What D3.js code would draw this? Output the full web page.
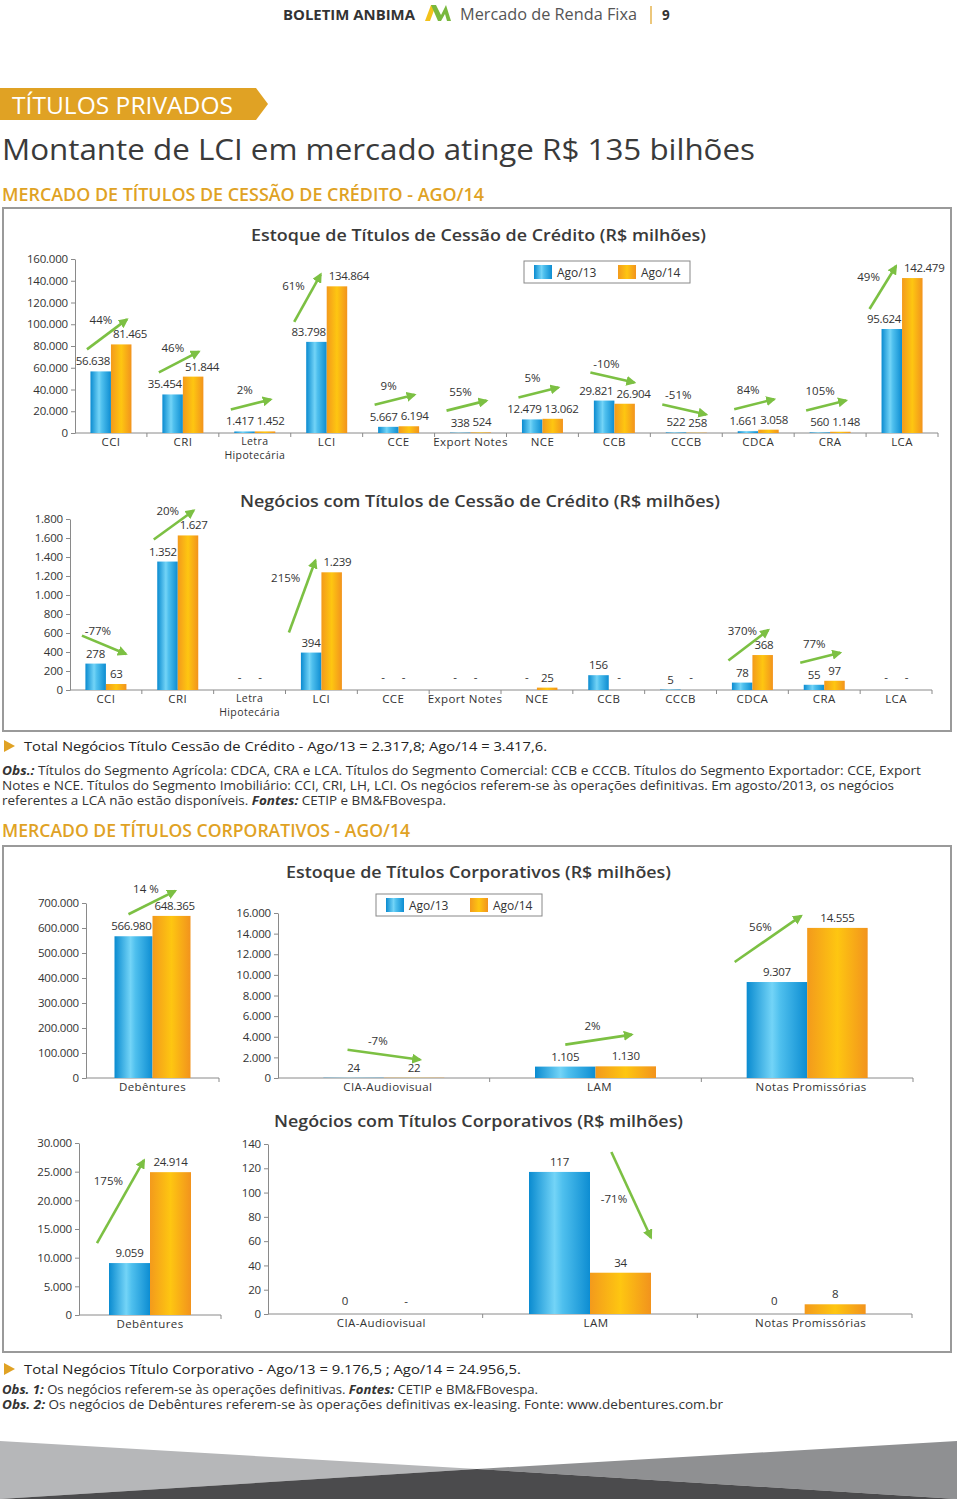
<!DOCTYPE html>
<html>
<head>
<meta charset="utf-8">
<script src="https://cdn.jsdelivr.net/npm/d3@7"></script>
<style>
  body { margin: 0; background: #fff; }
  svg { display: block; font-family: "Open Sans", sans-serif; }
</style>
</head>
<body>
<div id="page"></div>
<script>
// ---- data ----
const seriesNames = ["Ago/13", "Ago/14"];

const cessaoCategories = ["CCI", "CRI", "Letra\nHipotecária", "LCI", "CCE", "Export Notes", "NCE", "CCB", "CCCB", "CDCA", "CRA", "LCA"];
const estoqueAgo13 = [56638, 35454, 1417, 83798, 5667, 338, 12479, 29821, 522, 1661, 560, 95624];
const estoqueAgo14 = [81465, 51844, 1452, 134864, 6194, 524, 13062, 26904, 258, 3058, 1148, 142479];
const estoqueVariacao = ["44%", "46%", "2%", "61%", "9%", "55%", "5%", "-10%", "-51%", "84%", "105%", "49%"];
const estoqueTicks = [0, 20000, 40000, 60000, 80000, 100000, 120000, 140000, 160000];

const negociosAgo13 = [278, 1352, null, 394, null, null, null, 156, 5, 78, 55, null];
const negociosAgo14 = [63, 1627, null, 1239, null, null, 25, null, null, 368, 97, null];
const negociosVariacao = ["-77%", "20%", null, "215%", null, null, null, null, null, "370%", "77%", null];
const negociosTicks = [0, 200, 400, 600, 800, 1000, 1200, 1400, 1600, 1800];

const debCategories = ["Debêntures"];
const corpCategories = ["CIA-Audiovisual", "LAM", "Notas Promissórias"];

const debEstoqueAgo13 = [566980];
const debEstoqueAgo14 = [648365];
const debEstoqueVariacao = ["14 %"];
const debEstoqueTicks = [0, 100000, 200000, 300000, 400000, 500000, 600000, 700000];

const corpEstoqueAgo13 = [24, 1105, 9307];
const corpEstoqueAgo14 = [22, 1130, 14555];
const corpEstoqueVariacao = ["-7%", "2%", "56%"];
const corpEstoqueTicks = [0, 2000, 4000, 6000, 8000, 10000, 12000, 14000, 16000];

const debNegociosAgo13 = [9059];
const debNegociosAgo14 = [24914];
const debNegociosVariacao = ["175%"];
const debNegociosTicks = [0, 5000, 10000, 15000, 20000, 25000, 30000];

const corpNegociosAgo13 = [0, 117, 0];
const corpNegociosAgo14 = [null, 34, 8];
const corpNegociosVariacao = [null, "-71%", null];
const corpNegociosTicks = [0, 20, 40, 60, 80, 100, 120, 140];

// ---- page ----
const W = 960, H = 1499;
const ORANGE = "#e0a224";
const GREEN = "#7cc043";
const TEXT = "#3a3a3a";

const ptBR = d3.formatLocale({ decimal: ",", thousands: ".", grouping: [3], currency: ["R$ ", ""] });
const fmt = ptBR.format(",d");

const svg = d3.select("#page").append("svg")
  .attr("width", W)
  .attr("height", H)
  .attr("viewBox", `0 0 ${W} ${H}`);

const defs = svg.append("defs");

function gradient(id, stops) {
  const g = defs.append("linearGradient").attr("id", id)
    .attr("x1", "0").attr("x2", "1").attr("y1", "0").attr("y2", "0");
  stops.forEach(([o, c]) => g.append("stop").attr("offset", o).attr("stop-color", c));
}
gradient("gBlue", [[0, "#0a8bd0"], [0.42, "#73d4f7"], [0.55, "#4fc0ee"], [1, "#0d8dd2"]]);
gradient("gOrange", [[0, "#f39a1c"], [0.5, "#fec611"], [1, "#f2931d"]]);
const fills = ["url(#gBlue)", "url(#gOrange)"];

defs.append("marker")
  .attr("id", "arrowHead")
  .attr("viewBox", "0 0 10 10")
  .attr("refX", 8)
  .attr("refY", 5)
  .attr("markerWidth", 10)
  .attr("markerHeight", 10)
  .attr("markerUnits", "userSpaceOnUse")
  .attr("orient", "auto")
  .append("path")
  .attr("d", "M0,0 L10,5 L0,10 Z")
  .attr("fill", GREEN);

function text(parent, x, y, s, style = {}) {
  const t = parent.append("text").attr("x", x).attr("y", y).text(s);
  Object.entries(style).forEach(([k, v]) => {
    if (k === "anchor") t.attr("text-anchor", v);
    else if (k === "len") t.attr("textLength", v).attr("lengthAdjust", "spacingAndGlyphs");
    else t.style(k, v);
  });
  return t;
}

// header
text(svg, 283, 20, "BOLETIM ANBIMA", { "font-size": "13.5px", "font-weight": 700, fill: "#333", len: 132 });
svg.append("path").attr("d", "M425,21 L431,5 L436,5 L430,21 Z").attr("fill", "#f2c21b");
svg.append("path").attr("d", "M431,5 L436,5 L441,15 L446,5 L451,21 L447,21 L445,14 L441,21 L438,21 Z").attr("fill", "#79b83e");
text(svg, 460, 20, "Mercado de Renda Fixa", { "font-size": "15.5px", fill: "#555", len: 177 });
svg.append("line").attr("x1", 651).attr("x2", 651).attr("y1", 6).attr("y2", 24)
  .attr("stroke", ORANGE).attr("stroke-width", 1.2);
text(svg, 662, 20, "9", { "font-size": "13.5px", "font-weight": 700, fill: "#333" });

// banner
svg.append("path").attr("d", "M0,88 L256,88 L268,104 L256,120 L0,120 Z").attr("fill", ORANGE);
text(svg, 12, 114, "TÍTULOS PRIVADOS", { "font-size": "23px", fill: "#fff", len: 221 });

text(svg, 2, 160, "Montante de LCI em mercado atinge R$ 135 bilhões", { "font-size": "29px", fill: TEXT, len: 753 });
text(svg, 2, 201, "MERCADO DE TÍTULOS DE CESSÃO DE CRÉDITO - AGO/14", { "font-size": "18px", "font-weight": 600, fill: ORANGE, len: 482 });

// boxes
svg.append("rect").attr("x", 3).attr("y", 208).attr("width", 948).attr("height", 523)
  .attr("fill", "none").attr("stroke", "#9a9a9a").attr("stroke-width", 2);
svg.append("rect").attr("x", 3).attr("y", 846).attr("width", 948).attr("height", 506)
  .attr("fill", "none").attr("stroke", "#9a9a9a").attr("stroke-width", 2);

// chart titles
const titleStyle = (len) => ({ "font-size": "17px", "font-weight": 600, fill: TEXT, len });
text(svg, 251, 241, "Estoque de Títulos de Cessão de Crédito (R$ milhões)", titleStyle(455));
text(svg, 240, 507, "Negócios com Títulos de Cessão de Crédito (R$ milhões)", titleStyle(480));
text(svg, 286, 878, "Estoque de Títulos Corporativos (R$ milhões)", titleStyle(385));
text(svg, 274, 1127, "Negócios com Títulos Corporativos (R$ milhões)", titleStyle(409));

function legend(x, y) {
  const g = svg.append("g").attr("transform", `translate(${x},${y})`);
  g.append("rect").attr("width", 166).attr("height", 22)
    .attr("fill", "#fff").attr("stroke", "#888").attr("stroke-width", 1);
  seriesNames.forEach((name, i) => {
    g.append("rect").attr("x", 10 + i * 84).attr("y", 4).attr("width", 18).attr("height", 14)
      .attr("fill", fills[i]);
    text(g, 33 + i * 84, 16, name, { "font-size": "12px", fill: "#333" });
  });
}
legend(524, 261);
legend(376, 894);

// generic grouped bar panel
function panel(cfg) {
  const g = svg.append("g");
  const x = d3.scaleBand().domain(cfg.categories).range(cfg.xRange);
  const y = d3.scaleLinear().domain([0, d3.max(cfg.ticks)]).range(cfg.yRange);
  const y0 = y(0);
  const bw = cfg.barWidth;

  const yAxis = g.append("g")
    .attr("transform", `translate(${cfg.xRange[0]},0)`)
    .call(d3.axisLeft(y).tickValues(cfg.ticks).tickFormat(fmt).tickSize(4).tickSizeOuter(0).tickPadding(3));
  yAxis.select(".domain").attr("stroke", "#8a8a8a");
  yAxis.selectAll(".tick line").attr("stroke", "#8a8a8a");
  yAxis.selectAll(".tick text").style("font-size", "11.5px").style("fill", "#333")
    .style("font-family", "'Open Sans', sans-serif").style("letter-spacing", "-0.2px");

  g.append("line").attr("x1", cfg.xRange[0]).attr("x2", cfg.xRange[1])
    .attr("y1", y0).attr("y2", y0).attr("stroke", "#8a8a8a");
  const bounds = cfg.categories.map((c) => x(c)).concat([cfg.xRange[1]]);
  bounds.slice(1).forEach((b) => {
    g.append("line").attr("x1", b).attr("x2", b).attr("y1", y0).attr("y2", y0 + 4).attr("stroke", "#8a8a8a");
  });

  cfg.categories.forEach((cat, i) => {
    const c = x(cat) + x.bandwidth() / 2;
    const lines = cat.split("\n");
    lines.forEach((ln, k) => {
      const two = lines.length > 1;
      text(g, c + (cfg.labelShift || 0), y0 + (two ? 11.5 + k * 14.5 : 12.5), ln,
        { anchor: "middle", "font-size": two ? "10.5px" : "11.5px", fill: "#333", "letter-spacing": "0.4px" });
    });

    const vals = [cfg.ago13[i], cfg.ago14[i]];
    vals.forEach((v, s) => {
      const bx = s === 0 ? c - bw : c;
      const bc = bx + bw / 2;
      if (v !== null && v > 0) {
        g.append("rect").attr("x", bx).attr("y", y(v)).attr("width", bw)
          .attr("height", Math.max(0, y0 - y(v))).attr("fill", fills[s]);
      }
      const label = v === null ? "-" : fmt(v);
      const ly = (v === null || v === 0) ? y0 - 9 : y(v) - 6;
      const t = text(g, bc, ly, label,
        { anchor: "middle", "font-size": "11.5px", fill: "#333", "letter-spacing": "-0.3px" });
      if (v !== null) {
        const w = t.node().getComputedTextLength();
        const lx = s === 0 ? Math.min(bc, c - 1 - w / 2) : Math.max(bc, c + 2 + w / 2);
        t.attr("x", lx);
      }
    });

    const pct = cfg.variacao[i];
    if (pct && vals[0] !== null && vals[1] !== null) {
      drawArrow(g, c, bw, y(vals[0]), y(vals[1]), pct);
    }
  });
}

function drawArrow(g, c, bw, yb, yo, pct) {
  const rising = !pct.startsWith("-");
  let x1, y1, x2, y2, lx, ly, anchor;
  if (rising && yb - yo > 40) {
    // steep rise: arrow runs up beside the Ago/13 bar
    x1 = c - bw - 12; y1 = yb - 20; x2 = c - 6; y2 = yo - 12;
    ly = y2 + 0.25 * (y1 - y2) + 4;
    lx = x1 + (x2 - x1) * (y1 - ly) / (y1 - y2) - 7; anchor = "end";
  } else if (!rising && yo - yb > 40) {
    x1 = c + 0.35 * bw; y1 = yb - 20; x2 = c + bw; y2 = yo - 35;
    lx = (x1 + x2) / 2 - 4; ly = (y1 + y2) / 2 + 8; anchor = "end";
  } else if (rising) {
    x1 = c - Math.max(24, 0.5 * bw); y1 = yb - 22;
    x2 = c + Math.max(16, 0.6 * bw); y2 = Math.min(yo - 25, y1 - 10);
    lx = (x1 + x2) / 2 - 6; ly = (y1 + y2) / 2 - 10; anchor = "middle";
  } else {
    x1 = c - Math.max(24, 0.6 * bw); y1 = yb - 28;
    x2 = c + Math.max(20, 0.6 * bw); y2 = Math.max(y1 + 10, yo - 30);
    lx = (x1 + x2) / 2 - 6; ly = (y1 + y2) / 2 - 10; anchor = "middle";
  }
  g.append("line").attr("x1", x1).attr("y1", y1).attr("x2", x2).attr("y2", y2)
    .attr("stroke", GREEN).attr("stroke-width", 2.6).attr("marker-end", "url(#arrowHead)");
  text(g, lx, ly, pct, { anchor, "font-size": "11.5px", fill: "#333" });
}

panel({
  categories: cessaoCategories, ago13: estoqueAgo13, ago14: estoqueAgo14, variacao: estoqueVariacao,
  ticks: estoqueTicks, xRange: [75, 938], yRange: [433, 259], barWidth: 20.5
});
panel({
  categories: cessaoCategories, ago13: negociosAgo13, ago14: negociosAgo14, variacao: negociosVariacao,
  ticks: negociosTicks, xRange: [70, 932], yRange: [690, 519], barWidth: 20.5
});
panel({
  categories: debCategories, ago13: debEstoqueAgo13, ago14: debEstoqueAgo14, variacao: debEstoqueVariacao,
  ticks: debEstoqueTicks, xRange: [86, 219], yRange: [1078, 903], barWidth: 38
});
panel({
  categories: corpCategories, ago13: corpEstoqueAgo13, ago14: corpEstoqueAgo14, variacao: corpEstoqueVariacao,
  ticks: corpEstoqueTicks, xRange: [278, 913], yRange: [1078, 913], barWidth: 60.5, labelShift: 4
});
panel({
  categories: debCategories, ago13: debNegociosAgo13, ago14: debNegociosAgo14, variacao: debNegociosVariacao,
  ticks: debNegociosTicks, xRange: [79, 221], yRange: [1315, 1143], barWidth: 41
});
panel({
  categories: corpCategories, ago13: corpNegociosAgo13, ago14: corpNegociosAgo14, variacao: corpNegociosVariacao,
  ticks: corpNegociosTicks, xRange: [268, 912], yRange: [1314, 1144], barWidth: 61, labelShift: 6
});

// notes
function bullet(y) {
  svg.append("path").attr("d", `M4,${y - 11} L15,${y - 5} L4,${y + 1} Z`).attr("fill", ORANGE);
}
function richLine(y, parts, size, len) {
  const t = svg.append("text").attr("x", 2).attr("y", y).style("font-size", size).style("fill", "#333");
  parts.forEach(([s, strong]) => {
    const sp = t.append("tspan").text(s);
    if (strong) sp.style("font-weight", 700).style("font-style", "italic");
  });
  if (len) t.attr("textLength", len).attr("lengthAdjust", "spacingAndGlyphs");
  return t;
}

bullet(751);
text(svg, 24, 751, "Total Negócios Título Cessão de Crédito - Ago/13 = 2.317,8; Ago/14 = 3.417,6.",
  { "font-size": "13.5px", fill: "#222", len: 523 });
richLine(775, [["Obs.:", true], [" Títulos do Segmento Agrícola: CDCA, CRA e LCA. Títulos do Segmento Comercial: CCB e CCCB. Títulos do Segmento Exportador: CCE, Export", false]], "12px", 919);
richLine(790, [["Notes e NCE. Títulos do Segmento Imobiliário: CCI, CRI, LH, LCI. Os negócios referem-se às operações definitivas. Em agosto/2013, os negócios", false]], "12px", 892);
richLine(805, [["referentes a LCA não estão disponíveis. ", false], ["Fontes:", true], [" CETIP e BM&FBovespa.", false]], "12px", 444);

text(svg, 2, 837, "MERCADO DE TÍTULOS CORPORATIVOS - AGO/14", { "font-size": "18px", "font-weight": 600, fill: ORANGE, len: 408 });

bullet(1374);
text(svg, 24, 1374, "Total Negócios Título Corporativo - Ago/13 = 9.176,5 ; Ago/14 = 24.956,5.",
  { "font-size": "13.5px", fill: "#222", len: 497 });
richLine(1394, [["Obs. 1:", true], [" Os negócios referem-se às operações definitivas. ", false], ["Fontes:", true], [" CETIP e BM&FBovespa.", false]], "12px", 536);
richLine(1409, [["Obs. 2:", true], [" Os negócios de Debêntures referem-se às operações definitivas ex-leasing. Fonte: www.debentures.com.br", false]], "12px", 721);

// footer band
svg.append("path").attr("d", "M0,1441 L477,1469 L0,1499 Z").attr("fill", "#b6b7b9");
svg.append("path").attr("d", "M957,1441 L477,1469 L957,1499 Z").attr("fill", "#8f9092");
svg.append("path").attr("d", "M477,1469 L0,1499 L957,1499 Z").attr("fill", "#4b4b4d");
</script>
</body>
</html>
